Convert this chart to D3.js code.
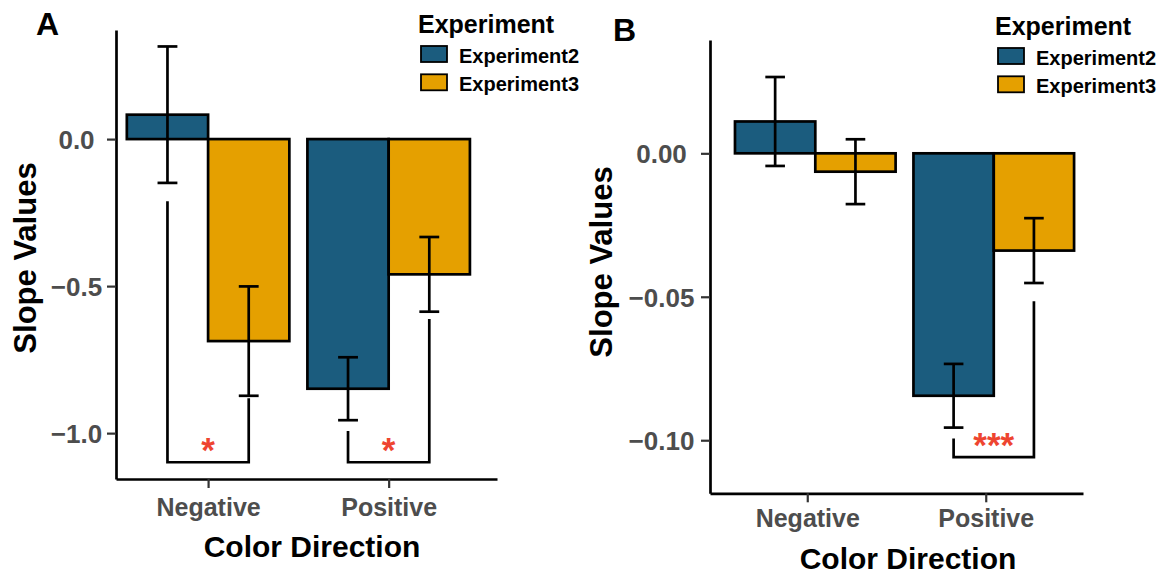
<!DOCTYPE html>
<html>
<head>
<meta charset="utf-8">
<script src="https://cdn.jsdelivr.net/npm/d3@7"></script>
<style>
  body { margin: 0; background: #fff; }
  svg text { font-family: "Liberation Sans", Arial, sans-serif; font-weight: bold; }
</style>
</head>
<body>
<svg id="chart" width="1173" height="581"></svg>
<script>
// categories and series
const categories = ["Negative", "Positive"];
const seriesNames = ["Experiment2", "Experiment3"];

// panel A values (mean and standard error)
const meanA2 = [0.083, -0.849];
const meanA3 = [-0.687, -0.460];
const seA2 = [0.232, 0.107];
const seA3 = [0.186, 0.127];
const ticksA = [0, -0.5, -1.0];
const tickLabelsA = ["0.0", "\u22120.5", "\u22121.0"];
// significance brackets: category, top of left leg, top of right leg, bottom, label height
const bracketsA = [
  { cat: 1, leftTop: -0.211, rightTop: -0.881, bottom: -1.099, labelAt: -1.03, label: "*" },
  { cat: 2, leftTop: -0.993, rightTop: -0.612, bottom: -1.099, labelAt: -1.03, label: "*" }
];

// panel B values
const meanB2 = [0.0111, -0.0845];
const meanB3 = [-0.0064, -0.0339];
const seB2 = [0.0155, 0.0111];
const seB3 = [0.0113, 0.0113];
const ticksB = [0, -0.05, -0.10];
const tickLabelsB = ["0.00", "\u22120.05", "\u22120.10"];
const bracketsB = [
  { cat: 2, leftTop: -0.0994, rightTop: -0.0516, bottom: -0.1059, labelAt: -0.0988, label: "***" }
];

var colors = ["#1b5c7e", "#e5a000"];
var lw = 2.7;
var svg = d3.select("#chart");

function drawPanel(p) {
  var x = d3.scaleLinear().domain(p.xDomain).range(p.xRange);
  var y = d3.scaleLinear().domain(p.yDomain).range(p.yRange);
  var g = svg.append("g");

  // bars
  var rows = [];
  categories.forEach(function (c, i) {
    [p.mean2, p.mean3].forEach(function (m, s) {
      rows.push({ cat: i + 1, s: s, v: m[i], se: (s == 0 ? p.se2 : p.se3)[i] });
    });
  });
  var bw = 0.45;
  rows.forEach(function (d) {
    d.left = d.cat + p.shift - bw + d.s * bw;
    d.mid = d.left + bw / 2;
  });

  g.selectAll(".bar")
    .data(rows)
    .enter().append("rect")
    .attr("x", d => x(d.left))
    .attr("width", d => x(d.left + bw) - x(d.left))
    .attr("y", d => y(Math.max(0, d.v)))
    .attr("height", d => Math.abs(y(d.v) - y(0)))
    .attr("fill", d => colors[d.s])
    .attr("stroke", "#000")
    .attr("stroke-width", lw);

  // error bars
  var eb = g.selectAll(".err").data(rows).enter().append("g")
    .attr("stroke", "#000").attr("stroke-width", lw);
  eb.append("line")
    .attr("x1", d => x(d.mid)).attr("x2", d => x(d.mid))
    .attr("y1", d => y(d.v + d.se)).attr("y2", d => y(d.v - d.se));
  eb.append("line")
    .attr("x1", d => x(d.mid - 0.055)).attr("x2", d => x(d.mid + 0.055))
    .attr("y1", d => y(d.v + d.se)).attr("y2", d => y(d.v + d.se));
  eb.append("line")
    .attr("x1", d => x(d.mid - 0.055)).attr("x2", d => x(d.mid + 0.055))
    .attr("y1", d => y(d.v - d.se)).attr("y2", d => y(d.v - d.se));

  // significance brackets
  p.brackets.forEach(function (b) {
    var xl = x(b.cat + p.shift - bw / 2), xr = x(b.cat + p.shift + bw / 2);
    g.append("path")
      .attr("d", d3.line()([[xl, y(b.leftTop)], [xl, y(b.bottom)], [xr, y(b.bottom)], [xr, y(b.rightTop)]]))
      .attr("fill", "none")
      .attr("stroke", "#000")
      .attr("stroke-width", lw);
    g.append("text")
      .attr("x", (xl + xr) / 2)
      .attr("y", y(b.labelAt) + 20)
      .attr("text-anchor", "middle")
      .style("font-size", "35px")
      .style("fill", "#ee4530")
      .text(b.label);
  });

  // y axis
  var yAxis = g.append("g")
    .attr("transform", `translate(${p.xRange[0]},0)`)
    .call(d3.axisLeft(y).tickValues(p.ticks).tickFormat((d, i) => p.tickLabels[i]).tickSize(9).tickSizeOuter(0));
  yAxis.select(".domain").attr("stroke", "#000").attr("stroke-width", lw);
  yAxis.selectAll(".tick line").attr("stroke", "#333").attr("stroke-width", 2.2);
  yAxis.selectAll(".tick text")
    .attr("x", -p.yLabelOff).attr("dy", "0.36em")
    .attr("text-anchor", "middle")
    .style("font-size", "26px").style("fill", "#4d4d4d");

  // x axis
  var xAxis = g.append("g")
    .attr("transform", `translate(0,${p.yRange[1]})`)
    .call(d3.axisBottom(x).tickValues([1, 2]).tickFormat(d => categories[d - 1]).tickSize(9).tickSizeOuter(0));
  xAxis.select(".domain").attr("stroke", "#000").attr("stroke-width", lw);
  xAxis.selectAll(".tick line").attr("stroke", "#333").attr("stroke-width", 2.2);
  xAxis.selectAll(".tick text")
    .attr("y", p.xLabelOff).attr("dy", 0)
    .style("font-size", "25px").style("fill", "#4d4d4d");

  // axis titles
  g.append("text")
    .attr("x", p.xTitle[0]).attr("y", p.xTitle[1])
    .attr("text-anchor", "middle")
    .style("font-size", "30px")
    .text("Color Direction");
  g.append("text")
    .attr("transform", `translate(${p.yTitle[0]},${p.yTitle[1]}) rotate(-90)`)
    .attr("text-anchor", "middle")
    .style("font-size", "31px")
    .text("Slope Values");

  // panel letter
  g.append("text")
    .attr("x", p.letterPos[0]).attr("y", p.letterPos[1])
    .style("font-size", "32px")
    .text(p.letter);

  // legend
  var lg = g.append("g").attr("transform", `translate(${p.legend[0]},${p.legend[1]})`);
  lg.append("text").attr("x", 0).attr("y", 0).style("font-size", "25px").text("Experiment");
  seriesNames.forEach(function (s, i) {
    lg.append("rect")
      .attr("x", 3).attr("y", 13 + i * 28.3)
      .attr("width", 26).attr("height", 16)
      .attr("fill", colors[i]).attr("stroke", "#000").attr("stroke-width", 1.8);
    lg.append("text")
      .attr("x", 41).attr("y", 29.5 + i * 28.3)
      .style("font-size", "20px")
      .text(s);
  });
}

drawPanel({
  letter: "A", letterPos: [36, 35],
  mean2: meanA2, mean3: meanA3, se2: seA2, se3: seA3,
  ticks: ticksA, tickLabels: tickLabelsA, brackets: bracketsA,
  xDomain: [0.49, 2.6], xRange: [116, 497],
  yDomain: [0.371, -1.156], yRange: [30, 479],
  shift: 0, yLabelOff: 39.5, xLabelOff: 36.5,
  xTitle: [312, 557], yTitle: [36, 258], legend: [418, 33]
});

drawPanel({
  letter: "B", letterPos: [613, 41],
  mean2: meanB2, mean3: meanB3, se2: seB2, se3: seB3,
  ticks: ticksB, tickLabels: tickLabelsB, brackets: bracketsB,
  xDomain: [0.455, 2.545], xRange: [710, 1083],
  yDomain: [0.0395, -0.1185], yRange: [40, 493.3],
  shift: 0.045, yLabelOff: 48.5, xLabelOff: 33.5,
  xTitle: [908, 569], yTitle: [612, 262], legend: [995, 35]
});
</script>
</body>
</html>
